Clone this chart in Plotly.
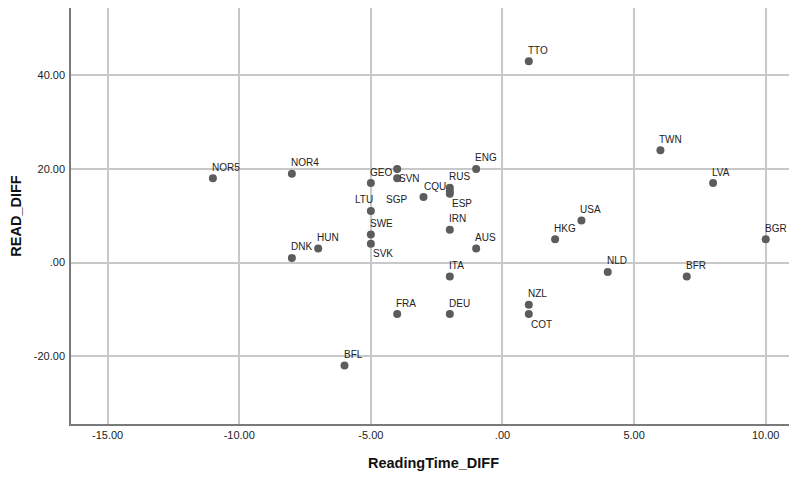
import plotly.graph_objects as go

# ---- data ----
labels = ["NOR5", "NOR4", "DNK", "HUN", "GEO", "SVN", "", "LTU", "SGP",
          "RUS", "CQU", "ESP", "ENG", "IRN", "AUS", "SWE", "SVK",
          "ITA", "FRA", "DEU", "NZL", "COT", "BFL",
          "TTO", "TWN", "LVA", "USA", "HKG", "BGR", "NLD", "BFR"]
reading_time_diff = [-11, -8, -8, -7, -5, -4, -4, -5, -3,
                     -2, -2, -2, -1, -2, -1, -5, -5,
                     -2, -4, -2, 1, 1, -6,
                     1, 6, 8, 3, 2, 10, 4, 7]
read_diff = [18, 19, 1, 3, 17, 20, 18, 11, 14,
             16, 15.3, 14.7, 20, 7, 3, 6, 4,
             -3, -11, -11, -9, -11, -22,
             43, 24, 17, 9, 5, 5, -2, -3]
x_tick_vals = [-15, -10, -5, 0, 5, 10]
x_tick_text = ["-15.00", "-10.00", "-5.00", ".00", "5.00", "10.00"]
y_tick_vals = [-20, 0, 20, 40]
y_tick_text = ["-20.00", ".00", "20.00", "40.00"]

# ---- label placement (style) ----
placement = ["tr", "tr", "tr", "tr", "tr", "br", "tr", "tl", "ml",
             "tr", "ml2", "br", "tr", "tr", "tr", "tr", "br",
             "tr", "tr", "tr", "tr", "br", "tr",
             "tr", "tr", "tr", "tr", "tr", "tr", "tr", "tr"]
place_style = {
    "tr": ("left", -1, 11),
    "br": ("left", 2, -10),
    "tl": ("right", 2, 11.5),
    "ml": ("right", -17, -2),
    "ml2": ("right", -4, 4),
}

FONT = "Liberation Sans, Arial, sans-serif"

fig = go.Figure()
fig.add_trace(go.Scatter(
    x=reading_time_diff, y=read_diff, mode="markers",
    marker=dict(size=8, color="#5c5c5c", line=dict(width=0)),
    hoverinfo="text", text=labels, showlegend=False,
))

annotations = []
for lab, xv, yv, p in zip(labels, reading_time_diff, read_diff, placement):
    if not lab:
        continue
    anchor, dx, dy = place_style[p]
    annotations.append(dict(
        x=xv, y=yv, xref="x", yref="y", text=lab, showarrow=False,
        xanchor=anchor, yanchor="middle", xshift=dx, yshift=dy,
        borderpad=0, borderwidth=0,
        font=dict(family=FONT, size=10, color="#222222"),
    ))

# page body has an 8px default margin, so the figure is offset by 8px
fig.update_layout(
    width=797, height=477,
    margin=dict(l=63, r=9, t=0, b=61, autoexpand=False),
    paper_bgcolor="white", plot_bgcolor="white",
    annotations=annotations,
    xaxis=dict(
        range=[-16.39, 11.15], tickvals=x_tick_vals, ticktext=x_tick_text,
        showgrid=True, gridcolor="#c8c8c8", gridwidth=1.5,
        zeroline=False, showline=True, linecolor="#7a7a7a", linewidth=1.5,
        ticks="", automargin=False,
        tickfont=dict(family=FONT, size=11, color="#222222"),
        title=dict(text="<b>ReadingTime_DIFF</b>", standoff=18,
                   font=dict(family=FONT, size=14.5, color="#111111")),
    ),
    yaxis=dict(
        range=[-34.5, 54.4], tickvals=y_tick_vals, ticktext=y_tick_text,
        showgrid=True, gridcolor="#c8c8c8", gridwidth=1.5,
        zeroline=False, showline=True, linecolor="#7a7a7a", linewidth=1.5,
        ticks="", automargin=False, ticklabelstandoff=2,
        tickfont=dict(family=FONT, size=11, color="#222222"),
        title=dict(text="<b>READ_DIFF</b>", standoff=17,
                   font=dict(family=FONT, size=14.5, color="#111111")),
    ),
)

fig.write_html("out.html")
